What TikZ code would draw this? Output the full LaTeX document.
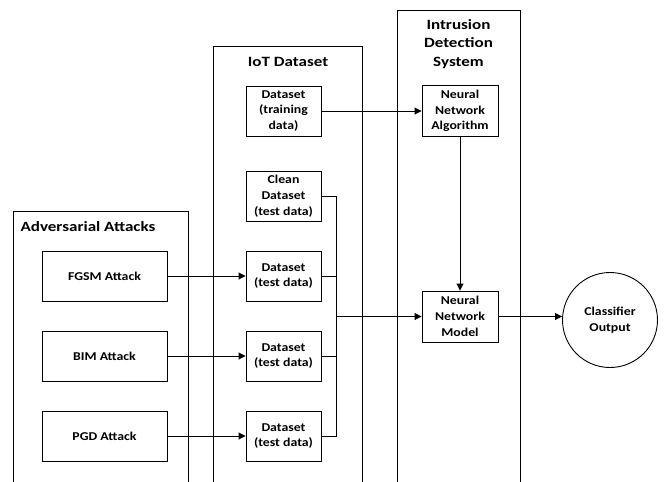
\documentclass[tikz,border=0pt]{standalone}
\usepackage{fontspec}
\setmainfont{Carlito}
\newfontfamily\nodefont[FakeStretch=1.15]{Carlito}
\newfontfamily\titlefont[FakeStretch=1.2]{Carlito}
\usetikzlibrary{arrows.meta}
\begin{document}
\begin{tikzpicture}[x=1pt,y=-1pt,
  box/.style={draw, line width=0.9pt, minimum width=75pt, minimum height=50pt, align=center, font=\nodefont\bfseries\fontsize{12}{15.7}\selectfont, inner sep=1pt},
  atk/.style={box, minimum width=125pt},
  title/.style={font=\titlefont\bfseries\fontsize{14.2}{18.5}\selectfont, align=center},
  frame/.style={line width=0.9pt},
  link/.style={line width=0.9pt},
  arr/.style={link, -{Triangle[length=7pt,width=7pt]}}]
\useasboundingbox (0,0) rectangle (665,482);
% containers
\draw[frame] (13,483) -- (13,211) -- (188,211) -- (188,483);
\draw[frame] (213,483) -- (213,46) -- (362,46) -- (362,483);
\draw[frame] (397,483) -- (397,10) -- (520,10) -- (520,483);
\node[title, anchor=base west] (tadv) at (17,231) {Adversarial Attacks};
\node[title, anchor=base] (tiot) at (288,66) {IoT Dataset};
\node[title, anchor=north] (tids) at (458.5,16) {Intrusion\\Detection\\System};
% nodes
\node[atk] (fgsm) at (104.5,276) {FGSM Attack};
\node[atk] (bim) at (104.5,356) {BIM Attack};
\node[atk] (pgd) at (104.5,436) {PGD Attack};
\node[box] (train) at (283.5,111) {Dataset\\(training\\data)};
\node[box] (clean) at (283.5,196) {Clean\\Dataset\\(test data)};
\node[box] (t1) at (283.5,276) {Dataset\\(test data)};
\node[box] (t2) at (283.5,356) {Dataset\\(test data)};
\node[box] (t3) at (283.5,436) {Dataset\\(test data)};
\node[box, minimum width=76pt, minimum height=51pt] (algo) at (460,111) {Neural\\Network\\Algorithm};
\node[box, minimum width=76pt, minimum height=51pt] (model) at (460,316.5) {Neural\\Network\\Model};
\node[draw, circle, line width=0.9pt, minimum size=95pt, align=center, font=\nodefont\bfseries\fontsize{12}{15.7}\selectfont] (out) at (610,320) {Classifier\\Output};
\coordinate (bus) at (336,316.5);
% connectors
\draw[arr] (fgsm) -- (t1);
\draw[arr] (bim) -- (t2);
\draw[arr] (pgd) -- (t3);
\draw[arr] (train) -- (algo);
\draw[arr] (algo) -- (model);
\draw[link] (clean.east) -| (bus);
\draw[link] (t1.east) -| (bus);
\draw[link] (t2.east) -| (bus);
\draw[link] (t3.east) -| (bus);
\draw[arr] (bus) -- (model);
\draw[arr] (model) -- (model -| out.west);
\end{tikzpicture}
\end{document}
